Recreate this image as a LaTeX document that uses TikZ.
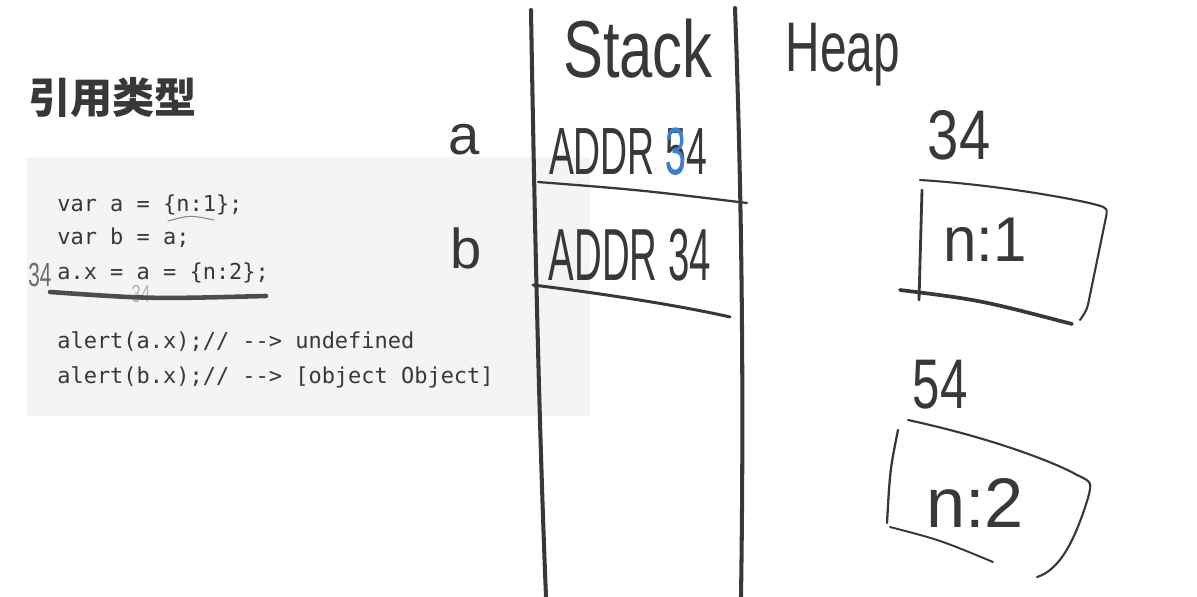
\documentclass[tikz,border=0pt]{standalone}
\usepackage{fontspec}
\usepackage{graphicx}
\setmainfont{Liberation Sans}
\setmonofont{DejaVu Sans Mono}
\newfontfamily\cjk{Noto Sans CJK SC}
\usetikzlibrary{positioning}
\definecolor{ink}{HTML}{383838}
\definecolor{codebg}{HTML}{F4F4F6}
\definecolor{pen}{HTML}{3A7FD5}

\begin{document}
\begin{tikzpicture}[x=0.02cm,y=-0.02cm,line cap=round,line join=round]
\tikzstyle{hand}=[text=ink,inner sep=0pt,font=\fontsize{38}{38}\selectfont]
\tikzstyle{stroke}=[draw=ink,line width=1.6pt]
\tikzstyle{code}=[anchor=west,inner sep=0pt,text=ink,font=\ttfamily\fontsize{12.5}{12.5}\selectfont]
\useasboundingbox[fill=white] (0,0) rectangle (1197,597);
% slide side
\node[font=\cjk\bfseries\fontsize{24}{24}\selectfont,text=ink,anchor=west,inner sep=0pt] (title) at (28,98) {引用类型};
\fill[codebg] (27,157) rectangle (590,416);
\foreach \y/\t/\n in {205/{var a = \{n:1\};}/c1,238/{var b = a;}/c2,273/{a.x = a = \{n:2\};}/c3,342/{alert(a.x);// --> undefined}/c5,377/{alert(b.x);// --> [object Object]}/c6}
  \node[code] (\n) at (57,\y) {\t};
\node[hand,text=ink!75,font=\fontsize{19}{19}\selectfont] (ann) at (40,275) {\scalebox{0.62}[1]{34}};
\node[hand,text=ink!35,font=\fontsize{14}{14}\selectfont] (ann2) at (141,294) {\scalebox{0.7}[1]{34}};
\draw[ink!60,line width=0.6pt] (168,221) .. controls (190,215) .. (214,220);
\draw[ink!90,line width=2.6pt] (50,292) .. controls (150,299) .. (266,296);
% stack
\draw[stroke,line width=2.3pt] (531,10) .. controls (535,250) and (540,450) .. (546,597);
\draw[stroke,line width=2.3pt] (735,8) .. controls (742,200) and (744,400) .. (741,597);
\node[hand,font=\fontsize{46}{46}\selectfont] (stack) at (638,49) {\scalebox{0.74}[1]{Stack}};
\node[hand,font=\fontsize{40}{40}\selectfont] (heap) at (843,55) {\scalebox{0.68}[1]{Heap}};
\node[hand,font=\fontsize{32}{32}\selectfont] (va) at (464,140) {a};
\node[hand,font=\fontsize{32}{32}\selectfont] (vb) at (466,248) {b};
\node[hand] (addra) at (628,152) {\scalebox{0.56}[1]{ADDR 5\llap{\color{pen}3}4}};
\node[hand,font=\fontsize{42}{42}\selectfont] (addrb) at (630,255) {\scalebox{0.52}[1]{ADDR 34}};
\draw[stroke,line width=1.3pt] (538,182) .. controls (640,190) .. (747,203);
\draw[stroke,line width=1.7pt] (533,285) .. controls (630,297) and (700,310) .. (730,317);
% heap
\node[hand,font=\fontsize{40}{40}\selectfont] (h34) at (959,135) {\scalebox{0.8}[1]{34}};
\node[hand,font=\fontsize{36}{36}\selectfont] (obj1) at (985,240) {\scalebox{0.95}[1]{n:1}};
\draw[stroke,line width=1.2pt] (920,180) .. controls (1000,185) and (1080,200) .. (1097,205) .. controls (1108,208) .. (1105,222) -- (1090,295) .. controls (1087,310) .. (1080,320);
\draw[stroke,line width=1.6pt] (922,190) -- (919,300);
\draw[stroke,line width=2.1pt] (900,290) .. controls (980,300) .. (1072,324);
\node[hand,font=\fontsize{40}{40}\selectfont] (h54) at (940,385) {\scalebox{0.7}[1]{54}};
\node[hand,font=\fontsize{40}{40}\selectfont] (obj2) at (975,503) {n:2};
\draw[stroke,line width=1.2pt] (908,420) .. controls (1000,440) and (1060,465) .. (1077,475) .. controls (1092,482) .. (1088,498) .. controls (1075,540) and (1060,570) .. (1037,577);
\draw[stroke,line width=1.3pt] (898,430) .. controls (890,470) .. (887,523);
\draw[stroke,line width=1.1pt] (890,527) .. controls (940,540) .. (993,562);
\end{tikzpicture}
\end{document}
